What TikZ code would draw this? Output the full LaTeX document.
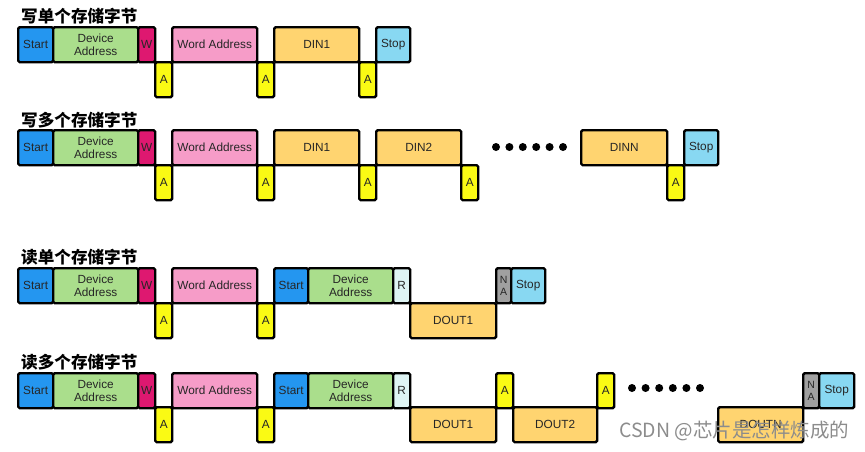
\documentclass[tikz,border=0pt]{standalone}
\usepackage{fontspec}
\setmainfont{Liberation Sans}
\newfontfamily\cjk{Noto Sans CJK SC}
\definecolor{cStart}{RGB}{36,150,240}
\definecolor{cDev}{RGB}{170,222,140}
\definecolor{cW}{RGB}{222,24,112}
\definecolor{cWord}{RGB}{246,156,200}
\definecolor{cDin}{RGB}{255,212,112}
\definecolor{cStop}{RGB}{136,216,242}
\definecolor{cAck}{RGB}{250,250,20}
\definecolor{cR}{RGB}{222,244,244}
\definecolor{cNa}{RGB}{160,160,160}
\newcommand\bitseg[6]{\node[seg,fill=#5,minimum width=#4pt] (#1) at (#2,#3) {#6};}
\begin{document}
\begin{tikzpicture}[x=1pt,y=-1pt,
  seg/.style={draw=black, line width=2.4pt, rounded corners=1.5pt, inner sep=0pt,
    anchor=north west, minimum height=35pt, text=black!85,
    font=\fontsize{11.8}{13.5}\selectfont, align=center},
  nabox/.style={seg, fill=cNa, font=\fontsize{10.5}{11.5}\selectfont},
  title/.style={anchor=west, inner sep=0pt, font=\cjk\bfseries\fontsize{16.6}{16.6}\selectfont},
  dot/.style={fill=black}]
\useasboundingbox (0,0) rectangle (865,451);

% ---------- write one byte ----------
\node[title] (t1) at (21,16) {写单个存储字节};
\bitseg{a1}{17}{26}{35}{cStart}{Start}
\bitseg{a2}{52}{26}{85}{cDev}{Device\\Address}
\bitseg{a3}{137}{26}{17}{cW}{W}
\bitseg{a4}{154}{61}{17}{cAck}{A}
\bitseg{a5}{171}{26}{85}{cWord}{Word Address}
\bitseg{a6}{256}{61}{17}{cAck}{A}
\bitseg{a7}{273}{26}{85}{cDin}{DIN1}
\bitseg{a8}{358}{61}{17}{cAck}{A}
\bitseg{a9}{375}{26}{34}{cStop}{Stop}

% ---------- write several bytes ----------
\node[title] (t2) at (21,120) {写多个存储字节};
\bitseg{b1}{17}{129}{35}{cStart}{Start}
\bitseg{b2}{52}{129}{85}{cDev}{Device\\Address}
\bitseg{b3}{137}{129}{17}{cW}{W}
\bitseg{b4}{154}{164}{17}{cAck}{A}
\bitseg{b5}{171}{129}{85}{cWord}{Word Address}
\bitseg{b6}{256}{164}{17}{cAck}{A}
\bitseg{b7}{273}{129}{85}{cDin}{DIN1}
\bitseg{b8}{358}{164}{17}{cAck}{A}
\bitseg{b9}{375}{129}{85}{cDin}{DIN2}
\bitseg{b10}{460}{164}{17}{cAck}{A}
\foreach \i in {0,...,5} \fill[dot] (496+\i*13.4,147) circle (4pt);
\bitseg{b11}{580}{129}{86}{cDin}{DINN}
\bitseg{b12}{666}{164}{17}{cAck}{A}
\bitseg{b13}{683}{129}{34}{cStop}{Stop}

% ---------- read one byte ----------
\node[title] (t3) at (21,257) {读单个存储字节};
\bitseg{c1}{17}{267}{35}{cStart}{Start}
\bitseg{c2}{52}{267}{85}{cDev}{Device\\Address}
\bitseg{c3}{137}{267}{17}{cW}{W}
\bitseg{c4}{154}{302}{17}{cAck}{A}
\bitseg{c5}{171}{267}{85}{cWord}{Word Address}
\bitseg{c6}{256}{302}{17}{cAck}{A}
\bitseg{c7}{273}{267}{34}{cStart}{Start}
\bitseg{c8}{307}{267}{85}{cDev}{Device\\Address}
\bitseg{c9}{392}{267}{17}{cR}{R}
\bitseg{c10}{409}{302}{86}{cDin}{DOUT1}
\node[nabox,minimum width=15pt] (c11) at (495,267) {N\\A};
\bitseg{c12}{510}{267}{34}{cStop}{Stop}

% ---------- read several bytes ----------
\node[title] (t4) at (21,362) {读多个存储字节};
\bitseg{d1}{17}{372}{35}{cStart}{Start}
\bitseg{d2}{52}{372}{85}{cDev}{Device\\Address}
\bitseg{d3}{137}{372}{17}{cW}{W}
\bitseg{d4}{154}{406}{17}{cAck}{A}
\bitseg{d5}{171}{372}{85}{cWord}{Word Address}
\bitseg{d6}{256}{406}{17}{cAck}{A}
\bitseg{d7}{273}{372}{34}{cStart}{Start}
\bitseg{d8}{307}{372}{85}{cDev}{Device\\Address}
\bitseg{d9}{392}{372}{17}{cR}{R}
\bitseg{d10}{409}{406}{86}{cDin}{DOUT1}
\bitseg{d11}{495}{372}{17}{cAck}{A}
\bitseg{d12}{512}{406}{84}{cDin}{DOUT2}
\bitseg{d13}{596}{372}{17}{cAck}{A}
\foreach \i in {0,...,5} \fill[dot] (632+\i*13.6,388) circle (4pt);
\bitseg{d14}{717}{406}{85}{cDin}{DOUTN}
\node[nabox,minimum width=16pt] (d15) at (802,372) {N\\A};
\bitseg{d16}{818}{372}{35}{cStop}{Stop}

% ---------- signature ----------
\node[anchor=west, inner sep=0pt, text=black!45, font=\cjk\fontsize{19.5}{19.5}\selectfont] (wm) at (619,431) {CSDN @芯片是怎样炼成的};
\end{tikzpicture}
\end{document}
